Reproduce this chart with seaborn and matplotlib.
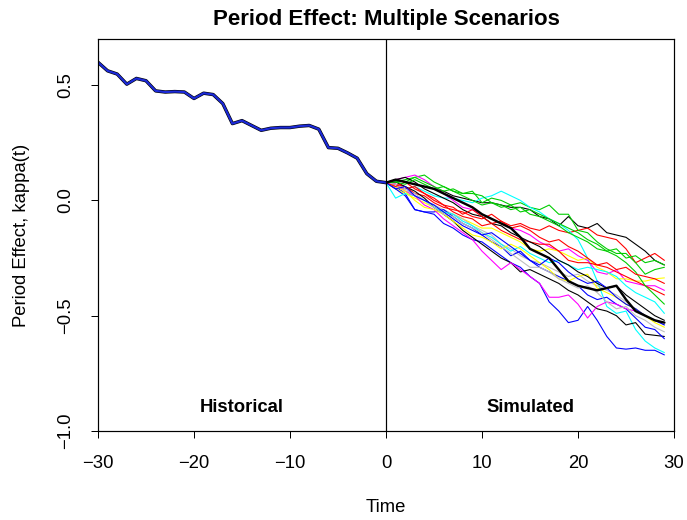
import numpy as np
import pandas as pd
import matplotlib
matplotlib.use("Agg")
import matplotlib.pyplot as plt
import seaborn as sns

# ---- data ----
hist_time = list(range(-30, 1))
hist_kappa = [0.599, 0.562, 0.548, 0.504, 0.529, 0.519, 0.475, 0.470, 0.472, 0.470,
              0.442, 0.465, 0.459, 0.420, 0.333, 0.346, 0.325, 0.304, 0.313, 0.316,
              0.316, 0.322, 0.325, 0.309, 0.229, 0.226, 0.206, 0.183, 0.116, 0.083, 0.077]

sim_time = list(range(0, 30))
sim_colors = ["#000000", "#FF0000", "#00CD00", "#0000FF",
              "#00FFFF", "#FF00FF", "#FFFF00", "#BEBEBE"]

sim01 = [0.077, 0.09, 0.08, 0.07, 0.06, 0.05, 0.04, 0.02, 0.01, 0.00, -0.01, -0.01, -0.02, -0.03, -0.03,
         -0.04, -0.07, -0.08, -0.11, -0.07, -0.11, -0.12, -0.10, -0.14, -0.15, -0.16, -0.19, -0.22, -0.26, -0.28]
sim02 = [0.077, 0.07, 0.06, 0.03, 0.02, -0.01, -0.03, -0.04, -0.05, -0.07, -0.08, -0.06, -0.09, -0.11, -0.10,
         -0.12, -0.13, -0.11, -0.13, -0.14, -0.13, -0.12, -0.15, -0.16, -0.17, -0.21, -0.27, -0.25, -0.23, -0.26]
sim03 = [0.077, 0.08, 0.09, 0.10, 0.11, 0.08, 0.06, 0.04, 0.03, 0.04, -0.01, 0.01, 0.00, -0.02, -0.01,
         -0.03, -0.04, -0.02, -0.06, -0.06, -0.13, -0.14, -0.18, -0.21, -0.23, -0.23, -0.27, -0.32, -0.30, -0.29]
sim04 = [0.077, 0.06, 0.03, -0.04, -0.05, -0.06, -0.10, -0.12, -0.15, -0.17, -0.18, -0.21, -0.24, -0.27, -0.29,
         -0.33, -0.36, -0.44, -0.48, -0.53, -0.52, -0.46, -0.52, -0.59, -0.64, -0.645, -0.64, -0.65, -0.65, -0.67]
sim05 = [0.077, 0.06, 0.05, 0.06, 0.04, 0.02, 0.01, 0.01, 0.00, -0.01, 0.01, 0.02, 0.04, 0.02, 0.00,
         -0.03, -0.05, -0.08, -0.10, -0.13, -0.17, -0.25, -0.35, -0.46, -0.49, -0.48, -0.56, -0.61, -0.64, -0.66]
sim06 = [0.077, 0.09, 0.10, 0.11, 0.09, 0.06, 0.03, 0.00, -0.03, -0.04, -0.06, -0.08, -0.10, -0.12, -0.13,
         -0.15, -0.18, -0.20, -0.22, -0.21, -0.24, -0.26, -0.31, -0.32, -0.30, -0.35, -0.36, -0.37, -0.37, -0.39]
sim07 = [0.077, 0.05, 0.03, 0.01, -0.01, -0.03, -0.05, -0.06, -0.08, -0.10, -0.12, -0.12, -0.14, -0.16, -0.18,
         -0.21, -0.22, -0.21, -0.22, -0.24, -0.26, -0.25, -0.29, -0.31, -0.34, -0.34, -0.35, -0.35, -0.34, -0.336]
sim08 = [0.077, 0.06, 0.04, 0.03, 0.00, -0.02, -0.04, -0.06, -0.08, -0.11, -0.13, -0.15, -0.19, -0.21, -0.24,
         -0.26, -0.27, -0.29, -0.31, -0.33, -0.32, -0.35, -0.37, -0.39, -0.41, -0.44, -0.47, -0.50, -0.52, -0.54]
sim09 = [0.077, 0.08, 0.06, 0.04, 0.01, -0.03, -0.06, -0.09, -0.13, -0.16, -0.19, -0.22, -0.25, -0.27, -0.31,
         -0.30, -0.32, -0.34, -0.36, -0.39, -0.41, -0.44, -0.47, -0.48, -0.50, -0.54, -0.53, -0.58, -0.585, -0.59]
sim10 = [0.077, 0.07, 0.05, 0.06, 0.03, 0.00, -0.02, -0.05, -0.07, -0.08, -0.11, -0.10, -0.13, -0.15, -0.17,
         -0.18, -0.19, -0.19, -0.22, -0.26, -0.27, -0.27, -0.28, -0.29, -0.31, -0.33, -0.35, -0.37, -0.39, -0.41]
sim11 = [0.077, 0.09, 0.08, 0.10, 0.08, 0.06, 0.04, 0.05, 0.03, 0.03, 0.02, -0.01, -0.02, -0.04, -0.03,
         -0.06, -0.07, -0.09, -0.11, -0.14, -0.16, -0.18, -0.21, -0.22, -0.24, -0.27, -0.31, -0.37, -0.41, -0.45]
sim12 = [0.077, 0.05, 0.02, -0.04, -0.05, -0.05, -0.04, -0.07, -0.10, -0.12, -0.15, -0.18, -0.20, -0.24, -0.22,
         -0.26, -0.29, -0.31, -0.33, -0.35, -0.37, -0.41, -0.43, -0.42, -0.45, -0.47, -0.51, -0.55, -0.56, -0.60]
sim13 = [0.077, 0.01, 0.03, 0.02, 0.00, -0.03, -0.05, -0.06, -0.09, -0.11, -0.14, -0.16, -0.19, -0.22, -0.20,
         -0.23, -0.25, -0.27, -0.26, -0.28, -0.30, -0.29, -0.30, -0.31, -0.33, -0.37, -0.40, -0.42, -0.44, -0.49]
sim14 = [0.077, 0.07, 0.04, 0.02, -0.02, -0.04, -0.08, -0.11, -0.14, -0.17, -0.22, -0.26, -0.30, -0.27, -0.30,
         -0.33, -0.36, -0.42, -0.42, -0.41, -0.45, -0.51, -0.46, -0.44, -0.45, -0.47, -0.48, -0.50, -0.52, -0.53]
sim15 = [0.077, 0.06, 0.04, 0.00, -0.03, -0.04, -0.06, -0.09, -0.12, -0.15, -0.16, -0.18, -0.21, -0.19, -0.21,
         -0.24, -0.27, -0.30, -0.34, -0.35, -0.33, -0.32, -0.38, -0.40, -0.42, -0.45, -0.47, -0.50, -0.53, -0.55]
sim16 = [0.077, 0.07, 0.05, 0.02, 0.00, -0.03, -0.06, -0.07, -0.10, -0.12, -0.14, -0.17, -0.20, -0.23, -0.26,
         -0.29, -0.29, -0.31, -0.34, -0.36, -0.38, -0.37, -0.40, -0.44, -0.47, -0.46, -0.50, -0.52, -0.55, -0.57]
sim17 = [0.077, 0.09, 0.10, 0.08, 0.05, 0.03, 0.01, -0.01, -0.04, -0.06, -0.07, -0.10, -0.11, -0.14, -0.16,
         -0.18, -0.20, -0.23, -0.26, -0.28, -0.31, -0.33, -0.36, -0.38, -0.37, -0.41, -0.44, -0.47, -0.50, -0.52]
sim18 = [0.077, 0.06, 0.08, 0.05, 0.03, 0.01, -0.02, -0.03, -0.06, -0.04, -0.07, -0.10, -0.09, -0.12, -0.11,
         -0.13, -0.16, -0.18, -0.17, -0.20, -0.22, -0.25, -0.28, -0.27, -0.30, -0.29, -0.32, -0.33, -0.34, -0.36]
sim19 = [0.077, 0.08, 0.07, 0.09, 0.07, 0.05, 0.06, 0.04, 0.02, 0.00, -0.02, -0.01, -0.03, -0.02, -0.05,
         -0.04, -0.06, -0.08, -0.10, -0.12, -0.14, -0.17, -0.19, -0.22, -0.21, -0.25, -0.24, -0.27, -0.26, -0.28]
sim20 = [0.077, 0.05, 0.06, 0.02, 0.00, -0.02, -0.05, -0.08, -0.11, -0.13, -0.15, -0.14, -0.17, -0.20, -0.23,
         -0.26, -0.28, -0.25, -0.27, -0.31, -0.34, -0.36, -0.35, -0.38, -0.42, -0.45, -0.47, -0.50, -0.52, -0.54]
central = [0.077, 0.09, 0.08, 0.07, 0.06, 0.05, 0.03, 0.01, -0.01, -0.03, -0.06, -0.08, -0.10, -0.12, -0.16,
           -0.21, -0.23, -0.25, -0.30, -0.35, -0.37, -0.38, -0.39, -0.38, -0.37, -0.43, -0.48, -0.50, -0.52, -0.53]

sims = [sim01, sim02, sim03, sim04, sim05, sim06, sim07, sim08, sim09, sim10,
        sim11, sim12, sim13, sim14, sim15, sim16, sim17, sim18, sim19, sim20]

x_ticks = [-30, -20, -10, 0, 10, 20, 30]
y_ticks = [-1.0, -0.5, 0.0, 0.5]

# ---- style ----
sns.set_style("ticks")
plt.rcParams['font.family'] = ['Liberation Sans', 'DejaVu Sans']
plt.rcParams['axes.unicode_minus'] = True
plt.rcParams['text.color'] = 'black'
plt.rcParams['axes.labelcolor'] = 'black'
plt.rcParams['xtick.color'] = 'black'
plt.rcParams['ytick.color'] = 'black'

PX = 0.72  # points per pixel at dpi 100
fig = plt.figure(figsize=(6.87, 5.20), dpi=100)
ax = fig.add_axes([98 / 687, 1 - 431 / 520, (674 - 98) / 687, (431 - 39) / 520])

rows = []
for i, s in enumerate(sims):
    for t, v in zip(sim_time, s):
        rows.append({"time": t, "kappa": v, "sim": f"s{i+1:02d}"})
df = pd.DataFrame(rows)
pal = {f"s{i+1:02d}": sim_colors[i % 8] for i in range(len(sims))}

sns.lineplot(data=df, x="time", y="kappa", hue="sim", palette=pal, units="sim",
             estimator=None, lw=1.1 * PX, legend=False, ax=ax, sort=False)
sns.lineplot(x=sim_time, y=central, color="black", lw=2.4 * PX, ax=ax,
             estimator=None, sort=False)

sns.lineplot(x=hist_time, y=hist_kappa, color="black", lw=3.4 * PX, ax=ax,
             estimator=None, sort=False)
sns.lineplot(x=hist_time, y=hist_kappa, color="#1c2ad8", lw=2.2 * PX, ax=ax,
             estimator=None, sort=False)

ax.axvline(0, color="black", lw=1.2 * PX)

ax.set_xlim(-30, 30)
ax.set_ylim(-1.0, 0.7)
ax.set_xticks(x_ticks)
ax.set_yticks(y_ticks)
ax.set_xticklabels([f"{v}".replace("-", "\u2212") for v in x_ticks])
ax.set_yticklabels([f"{v:.1f}".replace("-", "\u2212") for v in y_ticks],
                   rotation=90, va="center")
ax.tick_params(axis="both", direction="out", length=5, width=1.0 * PX,
               labelsize=13.3, pad=12, colors="black")
for sp in ax.spines.values():
    sp.set_visible(True)
    sp.set_linewidth(1.2 * PX)
    sp.set_color("black")

ax.text(-15, -0.9, "Historical", ha="center", va="center", fontsize=13.3,
        fontweight="bold", color="black")
ax.text(15, -0.9, "Simulated", ha="center", va="center", fontsize=13.3,
        fontweight="bold", color="black")

ax.set_xlabel("Time", fontsize=13.3, labelpad=20, color="black")
ax.set_ylabel("Period Effect, kappa(t)", fontsize=13.3, labelpad=20, color="black")
ax.set_title("Period Effect: Multiple Scenarios", fontsize=16, fontweight="bold",
             pad=10, color="black")

fig.savefig("out.png", dpi=100)
